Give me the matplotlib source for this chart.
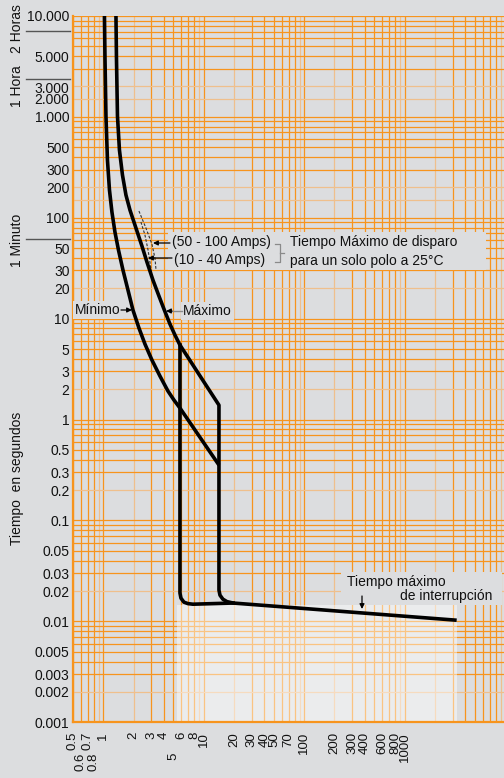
import matplotlib
matplotlib.use("Agg")
import matplotlib.pyplot as plt
from matplotlib.patches import Rectangle

plt.rcParams['font.family'] = ['Liberation Sans', 'DejaVu Sans']

# ---------------- data (current in multiples of In, time in seconds) ----------------
min_curve_I = [1.028, 1.040, 1.064, 1.101, 1.153, 1.220, 1.307, 1.417, 1.571, 1.762, 1.975, 2.266,
               2.600, 3.052, 3.666, 4.404, 5.052, 5.798, 14.17]
min_curve_t = [10000, 3923, 1018, 373, 188.2, 113.9, 72.2, 47.9, 30.3, 19.2, 12.17, 8.07,
               5.60, 3.888, 2.698, 1.916, 1.561, 1.300, 0.354]

max_curve_I = [1.338, 1.353, 1.385, 1.449, 1.553, 1.682, 1.844, 2.020, 2.214, 2.427, 2.721, 3.123,
               3.583, 4.018, 4.610, 5.169, 5.798, 14.17, 14.17, 14.5, 15.5, 17.0, 19.6, 3155]
max_curve_t = [10000, 3923, 1018, 469, 265, 167.9, 119.2, 90.7, 68.9, 52.4, 36.4, 24.1,
               16.75, 12.45, 8.84, 6.88, 5.475, 1.39, 0.0204, 0.0182, 0.0166, 0.0157, 0.0152, 0.0103]

inst_curve_I = [5.798, 5.798, 5.93, 6.35, 6.96, 7.80, 19.6]
inst_curve_t = [5.475, 0.0191, 0.0170, 0.0155, 0.0150, 0.0148, 0.0152]

dash_50_100_I = [2.265, 2.66, 3.05, 3.27, 3.35]
dash_50_100_t = [116.5, 79, 54.8, 39.8, 30.3]
dash_10_40_I = [2.37, 2.60, 2.79, 3.05]
dash_10_40_t = [90.7, 67.4, 47.9, 27.0]

xtick_values = [0.5, 0.7, 1, 2, 3, 4, 6, 8, 10, 20, 30, 40, 50, 70, 100, 200, 300, 400, 600, 800, 1000]
xtick_labels = ["0.5", "0.7", "1", "2", "3", "4", "6", "8", "10", "20", "30", "40", "50", "70",
                "100", "200", "300", "400", "600", "800", "1000"]
xtick2_values = [0.6, 0.8, 5]
xtick2_labels = ["0.6", "0.8", "5"]

ytick_values = [10000, 3915, 1950, 1518, 1000, 500, 300, 200, 100, 50, 30, 20, 10, 5, 3, 2, 1,
                0.5, 0.3, 0.2, 0.1, 0.05, 0.03, 0.02, 0.01, 0.005, 0.003, 0.002, 0.001]
ytick_labels = ["10.000", "5.000", "3.000", "2.000", "1.000", "500", "300", "200", "100", "50", "30",
                "20", "10", "5", "3", "2", "1", "0.5", "0.3", "0.2", "0.1", "0.05", "0.03", "0.02",
                "0.01", "0.005", "0.003", "0.002", "0.001"]

# ---------------- style ----------------
BG = '#DCDDDF'
ORANGE = '#F7941D'
LIGHT_OR = '#EFBF8C'
INK = '#111111'
W, H = 504, 778

fig = plt.figure(figsize=(W / 100, H / 100), dpi=100, facecolor=BG)
ax = fig.add_axes([73 / W, (H - 722.3) / H, (W - 73) / W, (722.3 - 15.9) / H])
ax.set_facecolor(BG)
ax.set_xscale('log')
ax.set_yscale('log')
ax.set_xlim(0.5, 9720)
ax.set_ylim(0.001, 10000)


def fp(x, y):
    return (x / W, 1 - y / H)


# grid lines
for e in range(-1, 4):
    for m in [1, 2, 3, 4, 5, 6, 7, 8, 9]:
        v = m * 10 ** e
        if 0.5 <= v <= 9720:
            col = LIGHT_OR if m in (2, 9) else ORANGE
            ax.axvline(v, color=col, lw=0.9, zorder=1)
for e in range(-3, 4):
    mults = [1, 2, 3, 4, 5, 6, 7, 8, 9] + ([1.5] if e in (2, 3) else [])
    for m in mults:
        v = m * 10 ** e
        col = LIGHT_OR if m in (1.5, 2) else ORANGE
        ax.axhline(v, color=col, lw=0.9, zorder=1)
ax.axhline(10000, color=ORANGE, lw=0.9, zorder=1)

# pale region under interruption line
ax.add_patch(Rectangle((5.41, 0.001), 3304 - 5.41, 0.01452 - 0.001, facecolor='white',
                       alpha=0.45, edgecolor='none', zorder=1.5))

# curves
ax.plot(min_curve_I, min_curve_t, color='black', lw=2.6, zorder=4, solid_capstyle='butt',
        solid_joinstyle='round')
ax.plot(max_curve_I, max_curve_t, color='black', lw=2.6, zorder=4, solid_joinstyle='round')
ax.plot(inst_curve_I, inst_curve_t, color='black', lw=2.6, zorder=4, solid_joinstyle='round')
ax.plot(dash_50_100_I, dash_50_100_t, color='#333333', lw=0.8, ls=(0, (2.5, 1.5)), zorder=3)
ax.plot(dash_10_40_I, dash_10_40_t, color='#333333', lw=0.8, ls=(0, (2.5, 1.5)), zorder=3)

# axes styling
for s in ['top', 'right']:
    ax.spines[s].set_visible(False)
for s in ['left', 'bottom']:
    ax.spines[s].set_color(ORANGE)
    ax.spines[s].set_linewidth(1.6)
    ax.spines[s].set_zorder(5)

ax.set_xticks(xtick_values, xtick_labels)
ax.set_xticks(xtick2_values, xtick2_labels, minor=True)
ax.set_yticks(ytick_values, ytick_labels)
ax.set_yticks([], minor=True)
ax.tick_params(axis='x', which='major', length=0, pad=7, labelrotation=90, labelsize=9.5, labelcolor=INK)
ax.tick_params(axis='x', which='minor', length=0, pad=21.5, labelrotation=90, labelsize=9.5, labelcolor=INK)
ax.tick_params(axis='y', which='both', length=0, pad=2.5, labelsize=10, labelcolor=INK)

FS = 10
tf = fig.transFigure

# box for "Amps" annotation
x0, y0 = fp(168, 270)
x1, y1 = fp(486, 232)
ax.add_patch(Rectangle((x0, y0), x1 - x0, y1 - y0, transform=tf, facecolor=BG, edgecolor='none', zorder=2))
ax.text(*fp(172, 242), "(50 - 100 Amps)", transform=tf, fontsize=FS, ha='left', va='center', color=INK, zorder=6)
ax.text(*fp(174, 260), "(10 - 40 Amps)", transform=tf, fontsize=FS, ha='left', va='center', color=INK, zorder=6)
ax.text(*fp(290, 242), "Tiempo Máximo de disparo", transform=tf, fontsize=FS, ha='left', va='center', color=INK, zorder=6)
ax.text(*fp(290, 261), "para un solo polo a 25°C", transform=tf, fontsize=FS, ha='left', va='center', color=INK, zorder=6)
bx = [275, 280, 280, 275]
by = [244, 244, 262, 262]
ax.plot([fp(a, b)[0] for a, b in zip(bx, by)], [fp(a, b)[1] for a, b in zip(bx, by)],
        transform=tf, color='#8a8a8a', lw=0.9, zorder=6, clip_on=False)
ax.plot([fp(280, 253)[0], fp(284, 253)[0]], [fp(280, 253)[1], fp(284, 253)[1]],
        transform=tf, color='#8a8a8a', lw=0.9, zorder=6, clip_on=False)

arrow = dict(arrowstyle='-|>', color='black', lw=0.9, mutation_scale=7, shrinkA=0, shrinkB=0)
ax.annotate('', xy=fp(153, 243), xytext=fp(170, 243), xycoords='figure fraction', textcoords='figure fraction',
            arrowprops=arrow, zorder=6)
ax.annotate('', xy=fp(148, 258), xytext=fp(172, 258), xycoords='figure fraction', textcoords='figure fraction',
            arrowprops=arrow, zorder=6)

# Minimo / Maximo labels
ax.text(*fp(75, 310), "Mínimo", transform=tf, fontsize=FS, ha='left', va='center', color=INK, zorder=6,
        bbox=dict(facecolor=BG, edgecolor='none', pad=1.5))
ax.annotate('', xy=fp(132, 310), xytext=fp(121, 310), xycoords='figure fraction', textcoords='figure fraction',
            arrowprops=arrow, zorder=6)
ax.text(*fp(183, 311), "Máximo", transform=tf, fontsize=FS, ha='left', va='center', color=INK, zorder=6,
        bbox=dict(facecolor=BG, edgecolor='none', pad=1.5))
ax.plot([fp(170, 311)[0], fp(182, 311)[0]], [fp(170, 311)[1], fp(182, 311)[1]], transform=tf,
        color='#8a8a8a', lw=1.0, zorder=6)
ax.annotate('', xy=fp(166, 311), xytext=fp(172, 311), xycoords='figure fraction', textcoords='figure fraction',
            arrowprops=arrow, zorder=6)

# interruption label
x0, y0 = fp(341, 605)
x1, y1 = fp(502, 572)
ax.add_patch(Rectangle((x0, y0), x1 - x0, y1 - y0, transform=tf, facecolor=BG, edgecolor='none', zorder=2))
ax.text(*fp(347, 582), "Tiempo máximo", transform=tf, fontsize=FS, ha='left', va='center', color=INK, zorder=6)
ax.text(*fp(400, 596), "de interrupción", transform=tf, fontsize=FS, ha='left', va='center', color=INK, zorder=6)
ax.annotate('', xy=fp(362, 609), xytext=fp(362, 596), xycoords='figure fraction', textcoords='figure fraction',
            arrowprops=arrow, zorder=6)

# left side labels
fig.text(*fp(17, 29), "2 Horas", rotation=90, ha='center', va='center', fontsize=FS, color=INK)
fig.text(*fp(17, 86), "1 Hora", rotation=90, ha='center', va='center', fontsize=FS, color=INK)
fig.text(*fp(17, 240), "1 Minuto", rotation=90, ha='center', va='center', fontsize=FS, color=INK)
fig.text(*fp(17, 478), "Tiempo  en segundos", rotation=90, ha='center', va='center', fontsize=FS, color=INK)
for yy in (30.7, 79, 239):
    fig.add_artist(plt.Line2D([26 / W, 70 / W], [1 - yy / H, 1 - yy / H], transform=tf, color='#555555', lw=1.0))

fig.savefig('out.png', dpi=100, facecolor=BG)
